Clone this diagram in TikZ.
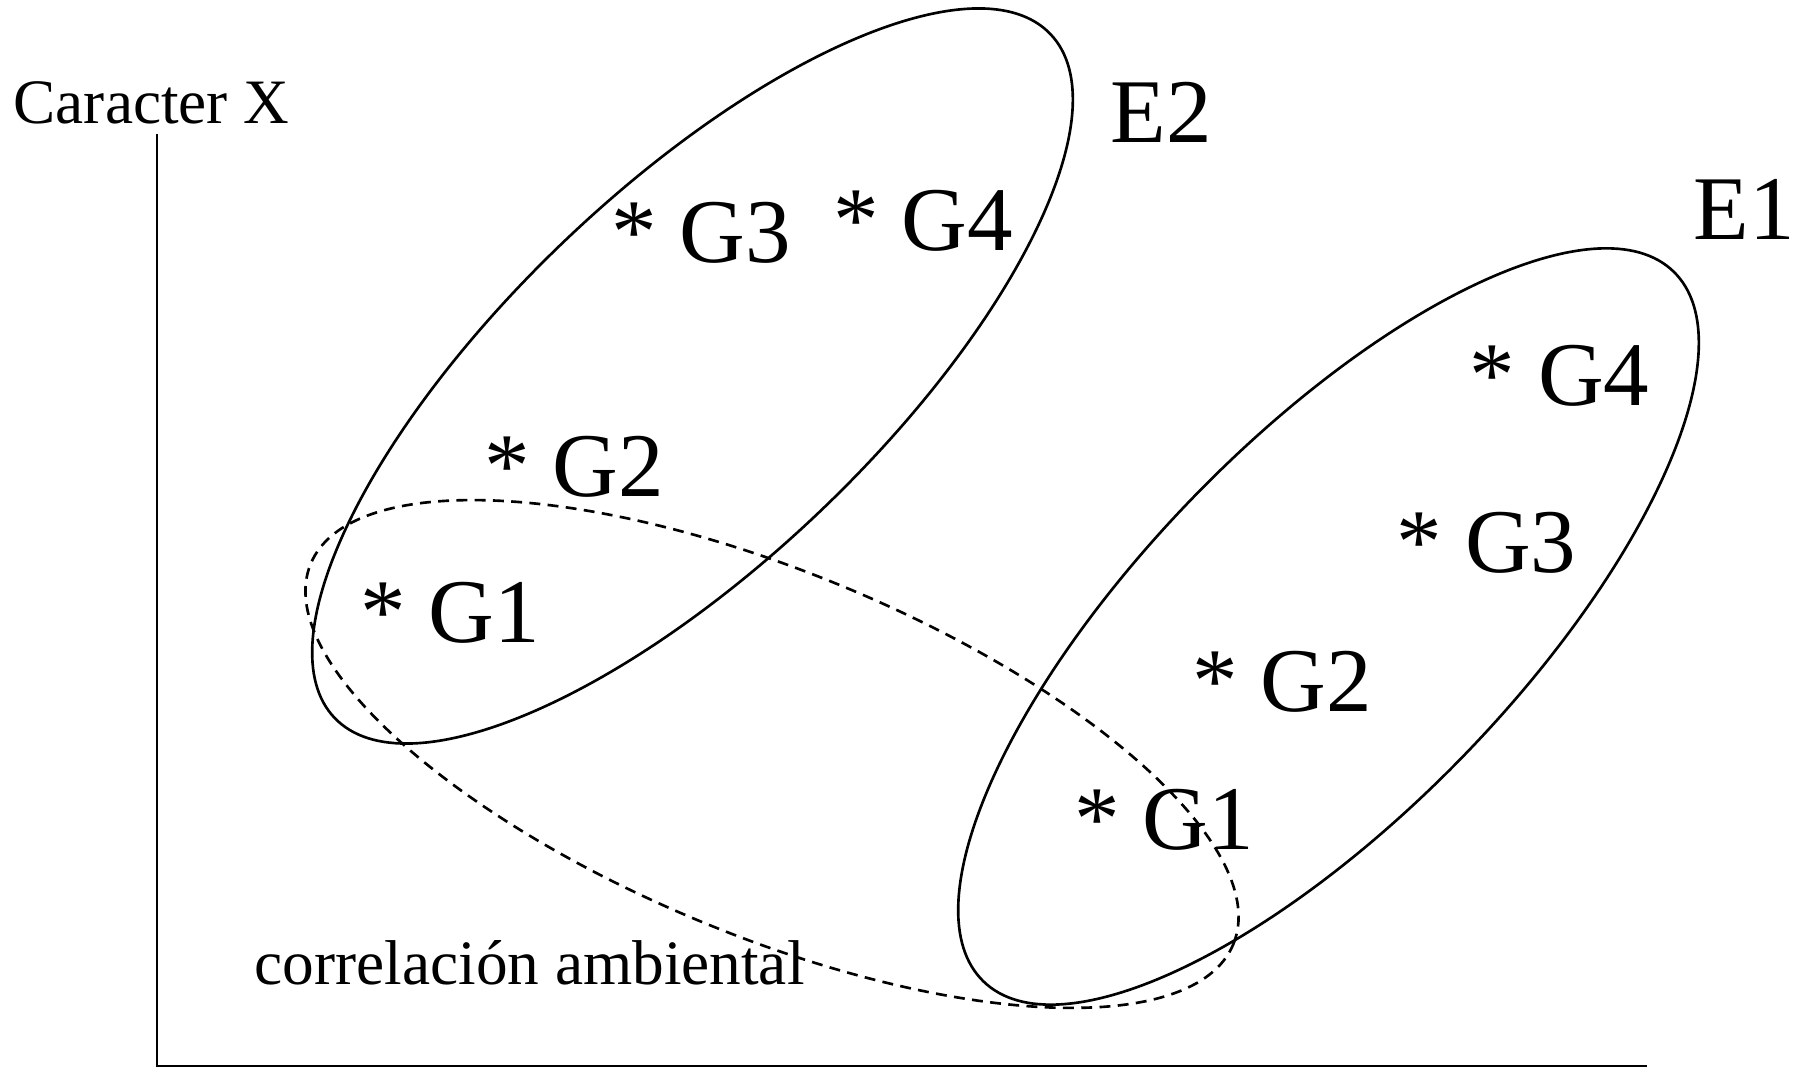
\documentclass[tikz,border=0pt]{standalone}
\usepackage{fontspec}
\setmainfont{Liberation Serif}
\usepackage{tikz}
\usetikzlibrary{positioning}

\begin{document}
\begin{tikzpicture}[
  glabel/.style={anchor=base west, inner sep=0pt, font=\fontsize{25.9}{30}\selectfont},
  small/.style={anchor=base west, inner sep=0pt, font=\fontsize{18}{21}\selectfont},
  env/.style={line width=0.75pt},
  envdash/.style={line width=0.75pt, dash pattern=on 3.1pt off 2.1pt}
]
\useasboundingbox (0,0) rectangle (18.08,10.68);
% Axes
\coordinate (ytop) at (1.57,9.34);
\coordinate (orig) at (1.57,0.02);
\coordinate (xend) at (16.47,0.02);
\draw[line width=0.6pt] (ytop) -- (orig) -- (xend);
\node[small] (ylab) at (0.13,9.44) {Caracter X};
% Environments
\draw[env, rotate around={43.7:(6.925,6.92)}] (6.925,6.92) ellipse (4.95 and 1.86);
\draw[env, rotate around={45.8:(13.285,4.415)}] (13.285,4.415) ellipse (4.95 and 1.87);
\draw[envdash, rotate around={-22.4:(7.72,3.14)}] (7.72,3.14) ellipse (4.99 and 1.82);
\node[glabel] (e2) at (11.10,9.25) {E2};
\node[glabel] (e1) at (16.93,8.28) {E1};
% Genotypes in E2
\node[glabel] (e2g1) at (3.60,4.25) {* G1};
\node[glabel] (e2g2) at (4.84,5.71) {* G2};
\node[glabel] (e2g3) at (6.11,8.05) {* G3};
\node[glabel] (e2g4) at (8.33,8.17) {* G4};
% Genotypes in E1
\node[glabel] (e1g1) at (10.74,2.19) {* G1};
\node[glabel] (e1g2) at (11.92,3.57) {* G2};
\node[glabel] (e1g3) at (13.96,4.95) {* G3};
\node[glabel] (e1g4) at (14.69,6.62) {* G4};
% Label
\node[small] (corr) at (2.54,0.84) {correlación ambiental};
\end{tikzpicture}
\end{document}
